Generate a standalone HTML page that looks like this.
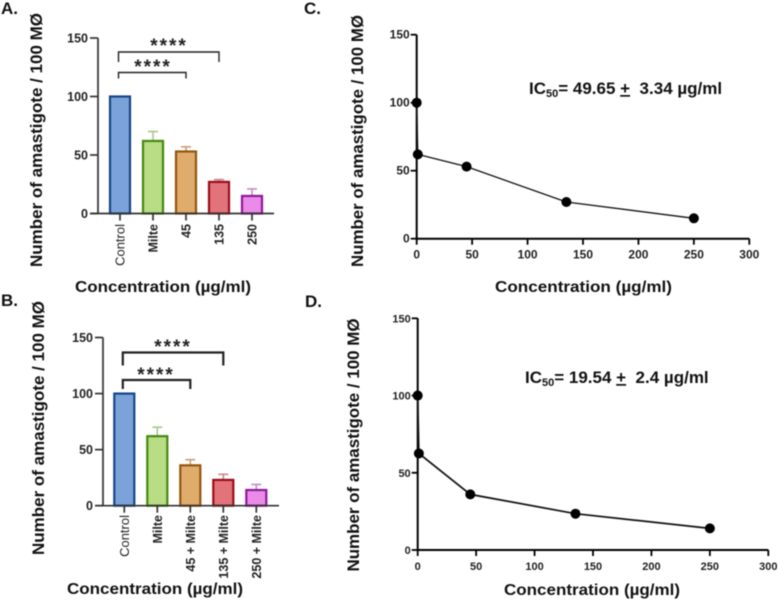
<!DOCTYPE html>
<html lang="en">
<head>
<meta charset="utf-8">
<title>Amastigote counts and IC50 curves</title>
<style>
html,body{margin:0;padding:0;background:#fff;width:778px;height:600px;overflow:hidden}
svg{display:block;filter:blur(0.42px)}
text{font-family:"Liberation Sans",sans-serif;fill:#222}
.title{font-weight:700;font-size:16.5px;fill:#111}
.xtitle{font-weight:700;font-size:16px;fill:#111}
.letter{font-weight:700;font-size:17px;fill:#111}
.ic{font-weight:700;font-size:17px;fill:#111}
</style>
</head>
<body>
<svg id="figure" width="778" height="600" viewBox="0 0 778 600" xmlns="http://www.w3.org/2000/svg">
  <text class="letter" x="1" y="14">A.</text>
  <text class="letter" x="1" y="306">B.</text>
  <text class="letter" x="304" y="14">C.</text>
  <text class="letter" x="305" y="307">D.</text>

  <text class="title" transform="translate(42,140) rotate(-90)" text-anchor="middle" textLength="254" lengthAdjust="spacingAndGlyphs">Number of amastigote / 100 MØ</text>
  <text class="title" transform="translate(44,428) rotate(-90)" text-anchor="middle" textLength="254" lengthAdjust="spacingAndGlyphs">Number of amastigote / 100 MØ</text>
  <text class="title" transform="translate(363,141) rotate(-90)" text-anchor="middle" textLength="252" lengthAdjust="spacingAndGlyphs">Number of amastigote / 100 MØ</text>
  <text class="title" transform="translate(359,445) rotate(-90)" text-anchor="middle" textLength="253" lengthAdjust="spacingAndGlyphs">Number of amastigote / 100 MØ</text>

  <text class="xtitle" x="163" y="292" text-anchor="middle" textLength="176" lengthAdjust="spacingAndGlyphs">Concentration (µg/ml)</text>
  <text class="xtitle" x="155" y="594" text-anchor="middle" textLength="176" lengthAdjust="spacingAndGlyphs">Concentration (µg/ml)</text>
  <text class="xtitle" x="583.5" y="292" text-anchor="middle" textLength="177" lengthAdjust="spacingAndGlyphs">Concentration (µg/ml)</text>
  <text class="xtitle" x="592" y="595" text-anchor="middle" textLength="176" lengthAdjust="spacingAndGlyphs">Concentration (µg/ml)</text>

  <text class="ic" x="529" y="94">IC<tspan font-size="11" dy="3">50</tspan><tspan dy="-3">= 49.65 </tspan><tspan text-decoration="underline">+</tspan><tspan xml:space="preserve">  3.34 µg/ml</tspan></text>
  <text class="ic" x="525" y="383">IC<tspan font-size="11" dy="3">50</tspan><tspan dy="-3">= 19.54 </tspan><tspan text-decoration="underline">+</tspan><tspan xml:space="preserve">  2.4 µg/ml</tspan></text>
</svg>
<script>
const barCategoriesA = ["Control", "Milte", "45", "135", "250"];
const barValuesA = [100, 62, 53, 27, 15];
const barErrorsA = [0, 8, 4, 2, 6];
const barCategoriesB = ["Control", "Milte", "45 + Milte", "135 + Milte", "250 + Milte"];
const barValuesB = [100, 62, 36, 23, 14];
const barErrorsB = [0, 8, 5, 5, 5];
const barYTicks = [0, 50, 100, 150];
const lineDoseC = [0, 1, 45, 135, 250];
const lineValuesC = [100, 62, 53, 27, 15];
const lineDoseD = [0, 1, 45, 135, 250];
const lineValuesD = [100, 62.5, 36, 23.5, 14];
const lineXTicks = [0, 50, 100, 150, 200, 250, 300];
const lineYTicks = [0, 50, 100, 150];
const svg = document.getElementById('figure');
const fills = ['#7ba3da', '#b9dd84', '#e0ac6c', '#e3737a', '#ea8be8'];
const strokes = ['#174587', '#438a0e', '#91560f', '#9c0c18', '#90169c'];
const errColors = ['#9db8dc', '#a6c88e', '#c9a077', '#c98a92', '#c78ac9'];

function make(tag, attrs, text) {
  const el = document.createElementNS('http://www.w3.org/2000/svg', tag);
  for (const k in attrs) el.setAttribute(k, attrs[k]);
  if (text !== undefined) el.textContent = text;
  svg.appendChild(el);
  return el;
}

function drawBarPanel(cfg) {
  const y = v => cfg.y0 - (v / 150) * (cfg.y0 - cfg.y150);
  const x = i => cfg.x0 + i * cfg.step;
  cfg.values.forEach((v, i) => {
    if (cfg.errors[i] > 0) {
      const stem = make('path', {d: `M${x(i)} ${y(v)}V${y(v + cfg.errors[i])}M${x(i) - 5} ${y(v + cfg.errors[i])}H${x(i) + 5}`, stroke: errColors[i], 'stroke-width': 1.6, fill: 'none'});
      
      
    }
    const bar = make('rect', {x: x(i) - 10, y: y(v), width: 20, height: y(0) - y(v), fill: fills[i], stroke: strokes[i], 'stroke-width': 2.2});
    
    
    const tick = make('line', {x1: x(i), x2: x(i), y1: cfg.y0, y2: cfg.y0 + 7, stroke: '#333', 'stroke-width': 1.7});
    
    
    const lab = make('text', {transform: `translate(${x(i) + 4.5},${cfg.labelTop}) rotate(-90)`, 'text-anchor': 'end', 'font-size': i === 0 ? 13 : 12.5, 'font-weight': i === 0 ? 400 : 700, fill: '#111'}, cfg.categories[i]);
    
    
  });
  const yAxis = make('line', {x1: cfg.axisX, x2: cfg.axisX, y1: cfg.y150, y2: cfg.y0, stroke: '#333', 'stroke-width': 1.7});
  
  
  const xAxis = make('line', {x1: cfg.axisX - 8, x2: cfg.axisEnd, y1: cfg.y0, y2: cfg.y0, stroke: '#333', 'stroke-width': 1.7});
  
  
  barYTicks.forEach(t => {
    const tk = make('line', {x1: cfg.axisX - 8, x2: cfg.axisX, y1: y(t), y2: y(t), stroke: '#333', 'stroke-width': 1.7});
    
    
    const lb = make('text', {x: cfg.axisX - 10, y: y(t) + 4.5, 'text-anchor': 'end', 'font-size': 12.5, 'font-weight': 700, fill: '#333'}, t);
    
    
  });
  cfg.brackets.forEach(b => {
    const br = make('path', {d: `M${x(0) - 1.5} ${b.y + b.drop}V${b.y}H${x(b.to)}V${b.y + b.dropR}`, stroke: '#222', 'stroke-width': cfg.bracketW, fill: 'none'});
    
    
    const st = make('text', {x: b.sx, y: b.sy, 'text-anchor': 'middle', 'font-size': 19, 'font-weight': 700, 'letter-spacing': 2, fill: '#111'}, '****');
    
    
  });
}

function drawLinePanel(cfg) {
  const x = v => cfg.x0 + (v / 300) * (cfg.x300 - cfg.x0);
  const y = v => cfg.y0 - (v / 150) * (cfg.y0 - cfg.y150);
  const yAxis = make('line', {x1: cfg.x0, x2: cfg.x0, y1: cfg.y150, y2: cfg.y0, stroke: '#000', 'stroke-width': 2});
  
  
  const xAxis = make('line', {x1: cfg.x0, x2: cfg.x300, y1: cfg.y0, y2: cfg.y0, stroke: '#000', 'stroke-width': 2});
  
  
  lineYTicks.forEach(t => {
    const tk = make('line', {x1: cfg.x0 - 6, x2: cfg.x0, y1: y(t), y2: y(t), stroke: '#000', 'stroke-width': 1.8});
    
    
    const lb = make('text', {x: cfg.x0 - 7, y: y(t) + 4, 'text-anchor': 'end', 'font-size': cfg.fs, 'font-weight': 700, fill: '#222'}, t);
    
    
  });
  lineXTicks.forEach(t => {
    const tk = make('line', {x1: x(t), x2: x(t), y1: cfg.y0, y2: cfg.y0 + 6, stroke: '#000', 'stroke-width': 1.8});
    
    
    const lb = make('text', {x: x(t), y: cfg.y0 + 20, 'text-anchor': 'middle', 'font-size': cfg.fs, 'font-weight': 700, fill: '#222'}, t);
    
    
  });
  const points = cfg.dose.map((d, i) => `${x(d)},${y(cfg.values[i])}`).join(' ');
  const line = make('polyline', {points: points, fill: 'none', stroke: '#111', 'stroke-width': cfg.lw});
  
  
  cfg.dose.forEach((d, i) => {
    const pt = make('circle', {cx: x(d), cy: y(cfg.values[i]), r: 5, fill: '#000'});
    
    
  });
}

drawBarPanel({
  categories: barCategoriesA, values: barValuesA, errors: barErrorsA,
  x0: 120, step: 33, y0: 213.5, y150: 38, axisX: 98, axisEnd: 274, labelTop: 224, bracketW: 1.4,
  brackets: [
    {to: 3, y: 52, drop: 10, dropR: 10, sx: 169, sy: 52},
    {to: 2, y: 72.5, drop: 6, dropR: 6, sx: 153, sy: 73}
  ]
});
drawBarPanel({
  categories: barCategoriesB, values: barValuesB, errors: barErrorsB,
  x0: 124.3, step: 33, y0: 505.7, y150: 337.5, axisX: 103, axisEnd: 279, labelTop: 515, bracketW: 2.2,
  brackets: [
    {to: 3, y: 352.5, drop: 13, dropR: 13, sx: 173, sy: 353},
    {to: 2, y: 380, drop: 9, dropR: 9, sx: 156, sy: 381}
  ]
});
drawLinePanel({dose: lineDoseC, values: lineValuesC, x0: 416.7, x300: 749.3, y0: 238.7, y150: 34.7, fs: 12, lw: 1.3});
drawLinePanel({dose: lineDoseD, values: lineValuesD, x0: 417.7, x300: 768.3, y0: 550, y150: 318.3, fs: 11, lw: 1.7});
</script>
</body>
</html>
